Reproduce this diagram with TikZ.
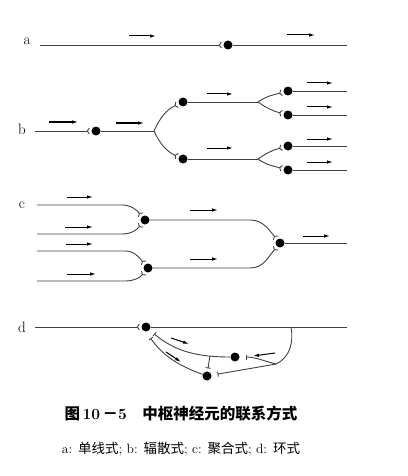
\documentclass[tikz,border=0pt]{standalone}
\usepackage{fontspec}
\newfontfamily\cjk{Noto Sans CJK SC}
\usetikzlibrary{arrows.meta}

\begin{document}
\begin{tikzpicture}[
  x=1pt, y=-1pt,
  >=Latex,
  axon/.style={draw=black!75, line width=0.9pt},
  soma/.style={circle, fill=black, inner sep=0pt, minimum size=9pt},
  syn/.style={axon, -{Straight Barb[reversed,length=2pt,width=6pt]}, shorten >=1.5pt},
  dsyn/.style={axon, -{Bar[width=5pt]}, shorten >=6pt},
  flow/.style={-{Latex[length=6pt,width=3.5pt]}, line width=1pt},
  lbl/.style={font=\fontsize{15}{17}\selectfont},
]
\useasboundingbox (0,0) rectangle (407,476);

% a
\node[lbl] (la) at (27,41) {a};
\coordinate (a0) at (40,45);
\node[soma] (a1) at (228,45) {};
\coordinate (a2) at (347,45);
\draw[syn] (a0) -- (a1);
\draw[axon] (a1) -- (a2);
\draw[flow] (129,36) -- (156,36);
\draw[flow] (287,35) -- (315,35);

% b
\node[lbl] (lb) at (22,129) {b};
\coordinate (b0) at (35,131);
\node[soma] (b1) at (96,131) {};
\coordinate (b2) at (154,131);
\node[soma] (b3) at (183,102) {};
\node[soma] (b4) at (183,159) {};
\coordinate (b5) at (258,102);
\coordinate (b8) at (258,159);
\node[soma] (b6) at (288,91) {};
\node[soma] (b7) at (288,115) {};
\node[soma] (b9) at (288,146) {};
\node[soma] (b10) at (288,170) {};
\draw[syn] (b0) -- (b1);
\draw[axon] (b1) -- (b2);
\draw[syn] (b2) to[out=65,in=205] (b3);
\draw[syn] (b2) to[out=-65,in=155] (b4);
\draw[axon] (b3) -- (b5);
\draw[axon] (b4) -- (b8);
\draw[syn] (b5) to[out=35,in=195] (b6);
\draw[syn] (b5) to[out=-35,in=165] (b7);
\draw[syn] (b8) to[out=35,in=195] (b9);
\draw[syn] (b8) to[out=-35,in=165] (b10);
\foreach \s/\y in {b6/91, b7/115, b9/146, b10/170}
  \draw[axon] (\s) -- (347,\y);
\draw[flow] (49,122) -- (78,122);
\draw[flow] (116,123) -- (144,123);
\draw[flow] (207,94) -- (233,94);
\draw[flow] (207,148) -- (233,148);
\foreach \y in {83,107,139,162}
  \draw[flow] (307,\y) -- (333,\y);

% c
\node[lbl] (lc) at (22,205) {c};
\coordinate (c0) at (37,205);
\coordinate (c4) at (37,234);
\coordinate (c5) at (37,251);
\coordinate (c6) at (37,281);
\node[soma] (c1) at (145,220) {};
\node[soma] (c2) at (148,268) {};
\node[soma] (c3) at (280,243) {};
\draw[syn] (c0) -- (122,205) to[out=0,in=130] (c1);
\draw[syn] (c4) -- (122,234) to[out=0,in=-130] (c1);
\draw[syn] (c5) -- (125,251) to[out=0,in=130] (c2);
\draw[syn] (c6) -- (125,281) to[out=0,in=-130] (c2);
\draw[syn] (c1) -- (250,220) to[out=0,in=130] (c3);
\draw[syn] (c2) -- (250,268) to[out=0,in=-130] (c3);
\draw[axon] (c3) -- (347,243);
\draw[flow] (67,197) -- (93,197);
\draw[flow] (65,227) -- (93,227);
\draw[flow] (66,244) -- (93,244);
\draw[flow] (67,274) -- (96,274);
\draw[flow] (190,210) -- (218,210);
\draw[flow] (190,259) -- (218,259);
\draw[flow] (303,236) -- (330,236);

% d
\node[lbl] (ld) at (22,327) {d};
\coordinate (d0) at (35,327);
\node[soma] (d1) at (146,327) {};
\coordinate (dE) at (347,327);
\node[soma] (d2) at (235,357) {};
\node[soma] (d3) at (207,376) {};
\coordinate (dk) at (291,327);
\coordinate (dj) at (276,364);
\draw[syn] (d0) -- (d1);
\draw[axon] (d1) -- (dE);
\draw[axon] (dk) to[out=-80,in=25] (dj);
\draw[dsyn] (dj) to[out=165,in=0] (d2);
\draw[dsyn] (dj) to[out=190,in=10] (d3);
\draw[dsyn] (d2) to[out=180,in=-40] coordinate[pos=0.22] (dm) (d1);
\draw[dsyn, shorten >=3pt] (dm) -- (d3);
\draw[dsyn, shorten >=8pt] (d3) to[out=160,in=-55] (d1.south);
\draw[flow] (171,338) -- (189,344);
\draw[flow] (166,352) -- (181,362);
\draw[flow] (275,353) -- (253,356);

% caption
\node (cap) at (181,414) {\fontsize{15.5}{18}\selectfont\cjk\bfseries 图\,\normalfont\bfseries 10\,{\cjk －}5\quad{\cjk\bfseries 中枢神经元的联系方式}};
\node (sub) at (181,449) {\fontsize{13.5}{16}\selectfont a: {\cjk 单线式}; b: {\cjk 辐散式}; c: {\cjk 聚合式}; d: {\cjk 环式}};
\end{tikzpicture}
\end{document}
